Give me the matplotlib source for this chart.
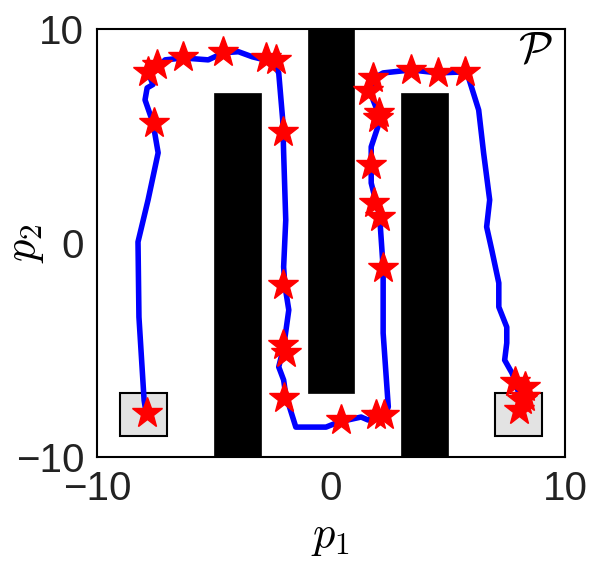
import numpy as np
import matplotlib.pyplot as plt
from matplotlib.patches import Rectangle

plt.rcParams['mathtext.fontset'] = 'cm'

# trajectory
path_x = [-7.9, -7.98, -8.20, -8.24, -7.81, -7.38, -7.60, -7.94, -7.85, -7.6, -7.81, -7.42,
          -7.08, -6.31, -5.24, -4.59, -3.95, -3.35, -2.49, -2.23, -2.06, -2.02, -1.93, -2.02,
          -1.97, -1.80, -2.02, -2.23, -2.02, -1.93, -1.50, -0.21, 0.34, 1.29, 1.59, 1.93,
          2.27, 2.45, 2.23, 2.23, 2.10, 2.02, 1.85, 1.72, 1.72, 2.06, 2.02, 1.80, 1.72, 1.85,
          2.23, 3.43, 4.59, 5.71, 5.88, 6.31, 6.52, 6.78, 6.65, 6.87, 7.17, 7.17, 7.51, 7.51,
          7.42, 7.73, 7.85, 8.1, 8.05]
path_y = [-7.9, -7.34, -3.46, 0.05, 2.01, 4.21, 5.61, 6.68, 7.24, 7.40, 7.95, 8.2,
          8.55, 8.64, 8.55, 8.88, 8.93, 8.69, 8.46, 7.94, 5.75, 4.21, 1.07, -1.12,
          -1.96, -3.13, -4.86, -5.79, -6.40, -7.10, -8.60, -8.60, -8.36, -8.13, -8.27, -8.04,
          -8.04, -7.66, -4.21, -1.17, 0.93, 1.54, 2.24, 2.80, 4.49, 5.61, 6.07, 6.68, 7.06, 7.71,
          7.94, 8.08, 7.94, 7.99, 7.71, 6.21, 4.21, 2.01, 0.75, -0.33, -1.87, -2.99, -3.93, -4.67,
          -5.47, -6.07, -6.40, -7.3, -7.8]

# sampled points (stars)
star_x = [-7.85, -7.55, -7.81, -7.42, -6.31, -4.59, -2.79, -2.36, -2.06, -2.06, -2.06, -1.93,
          -2.02, 0.43, 1.93, 2.27, 2.23, 2.10, 1.85, 1.72, 2.02, 2.06, 1.60, 1.80, 3.43, 4.59,
          5.71, 7.85, 8.28, 8.28, 8.15, 8.03]
star_y = [-7.94, 5.61, 7.99, 8.32, 8.69, 8.93, 8.64, 8.55, 5.19, -1.96, -4.77, -5.14,
          -7.24, -8.27, -8.04, -8.04, -1.17, 1.21, 1.87, 3.64, 5.84, 6.07, 7.10, 7.70, 8.08, 7.94,
          7.99, -6.50, -6.73, -7.20, -7.34, -7.80]

# obstacles: (x0, y0, width, height)
obs_x = [-5, -1, 3]
obs_y = [-10, -7, -10]
obs_w = [2, 2, 2]
obs_h = [17, 17, 17]

# start / goal regions
box_x = [-9, 7]
box_y = [-9, -9]
box_s = [2, 2]

fig = plt.figure(figsize=(6.05, 5.65), dpi=100)
ax = fig.add_axes([0.160, 0.191, 0.774, 0.758])

for x0, y0, w, h in zip(obs_x, obs_y, obs_w, obs_h):
    ax.add_patch(Rectangle((x0, y0), w, h, facecolor='black', edgecolor='black', lw=0.5, zorder=1))
for x0, y0, s in zip(box_x, box_y, box_s):
    ax.add_patch(Rectangle((x0, y0), s, s, facecolor='#e3e3e3', edgecolor='black', lw=1.5, zorder=1))

ax.plot(path_x, path_y, color='blue', lw=4, zorder=2, solid_joinstyle='round')
ax.plot(star_x, star_y, ls='none', marker='*', markersize=23, color='red', zorder=3)

ax.text(8.75, 9.0, r'$\mathcal{P}$', fontsize=32, ha='center', va='center')

ax.set_xlim(-10, 10)
ax.set_ylim(-10, 10)
ax.set_xticks([-10, 0, 10])
ax.set_yticks([-10, 0, 10])
ax.tick_params(length=0, labelsize=29, pad=9)
for lab in ax.get_xticklabels() + ax.get_yticklabels():
    lab.set_family('Liberation Sans')
    lab.set_color('#222222')
for sp in ax.spines.values():
    sp.set_linewidth(1.5)

ax.set_xlabel(r'$p_1$', fontsize=32, va='center')
ax.set_ylabel(r'$p_2$', fontsize=32, va='center')
ax.xaxis.set_label_coords(0.5, -0.185)
ax.yaxis.set_label_coords(-0.155, 0.5)

fig.savefig('out.png', dpi=100)
